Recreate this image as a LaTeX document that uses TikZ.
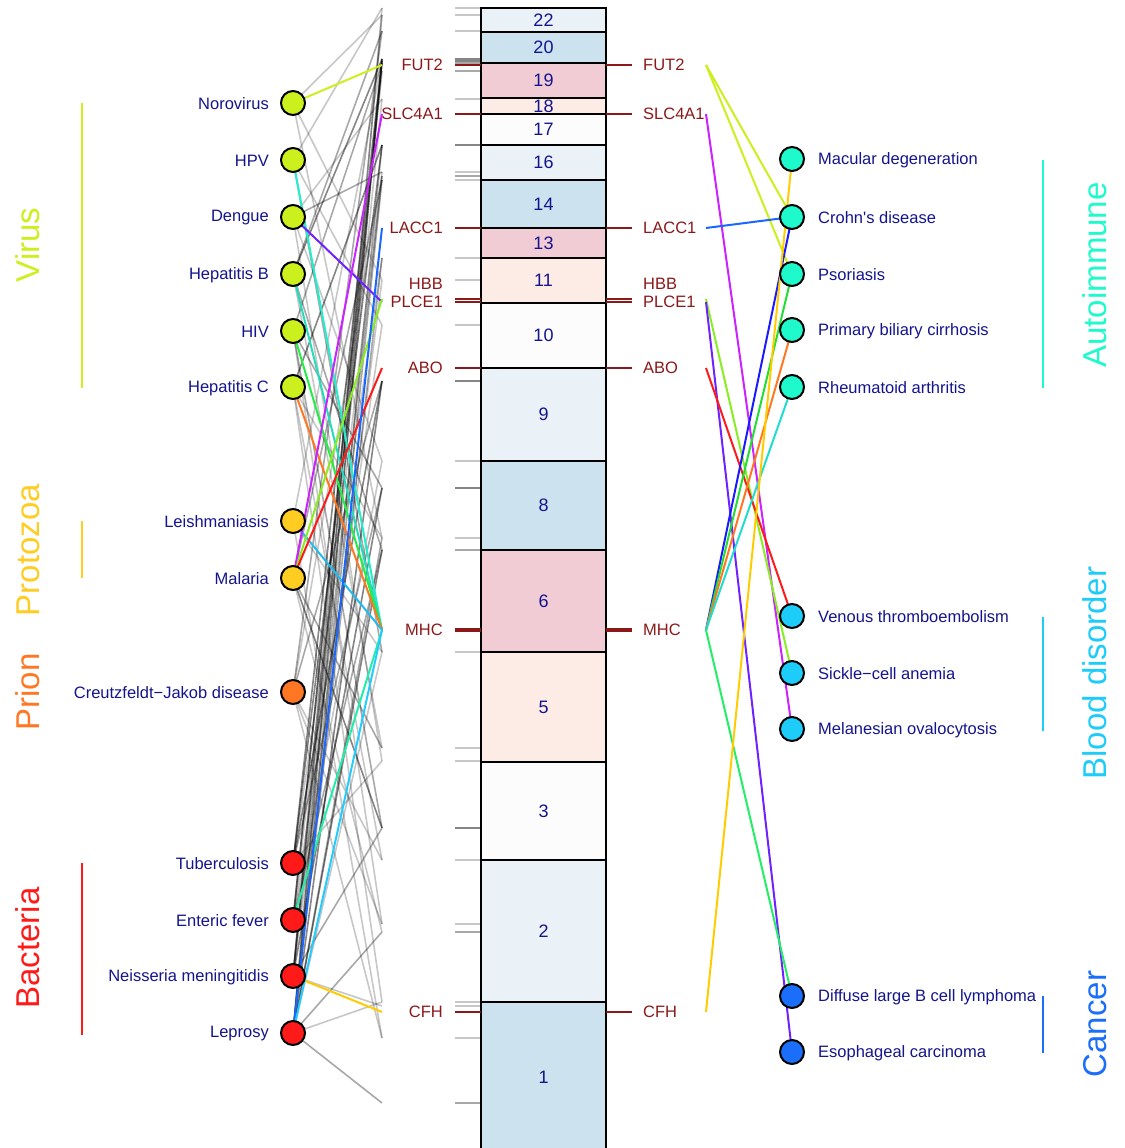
\documentclass[tikz,border=0pt]{standalone}
\usepackage{fontspec}
\setmainfont{Liberation Sans}
\definecolor{cvir}{RGB}{204,240,30}
\definecolor{cpro}{RGB}{255,204,34}
\definecolor{cpri}{RGB}{255,119,34}
\definecolor{cbac}{RGB}{255,26,26}
\definecolor{caut}{RGB}{30,250,204}
\definecolor{cblo}{RGB}{30,204,250}
\definecolor{ccan}{RGB}{26,110,250}
\definecolor{dred}{RGB}{140,25,25}
\definecolor{lnavy}{RGB}{20,20,140}
\definecolor{lviolet}{RGB}{110,34,255}
\definecolor{lmag}{RGB}{204,34,255}
\definecolor{lgreen}{RGB}{136,238,34}
\definecolor{lblue}{RGB}{26,102,255}
\definecolor{ldblue}{RGB}{26,26,255}
\definecolor{lgr}{RGB}{34,221,51}
\definecolor{lgr2}{RGB}{34,238,68}
\definecolor{lspring}{RGB}{34,238,102}
\definecolor{lturq}{RGB}{34,221,204}
\definecolor{laqua}{RGB}{34,238,204}
\definecolor{laqua2}{RGB}{34,221,187}
\definecolor{laqua3}{RGB}{34,238,170}
\definecolor{lcyan}{RGB}{34,204,255}
\definecolor{lsky}{RGB}{34,187,238}
\definecolor{lgold}{RGB}{255,204,0}
\definecolor{lorange}{RGB}{255,119,34}
\definecolor{lred}{RGB}{255,26,26}
\definecolor{bpb}{RGB}{234,242,248}
\definecolor{blb}{RGB}{204,226,238}
\definecolor{bpk}{RGB}{242,204,212}
\definecolor{bpp}{RGB}{253,236,230}
\definecolor{bwh}{RGB}{252,252,252}
\begin{document}
\begin{tikzpicture}[x=1pt,y=-1pt,
  dis/.style={circle,draw=black,line width=2pt,minimum size=24pt,inner sep=0pt},
  llab/.style={anchor=east,inner sep=0pt,text=lnavy,font=\fontsize{16.5}{19}\selectfont},
  rlab/.style={anchor=west,inner sep=0pt,text=lnavy,font=\fontsize{16.5}{19}\selectfont},
  glab/.style={inner sep=0pt,text=dred,font=\fontsize{16.5}{19}\selectfont},
  cat/.style={rotate=90,inner sep=0pt,font=\fontsize{33}{38}\selectfont},
  chr/.style={draw=black,line width=2pt},
  chrnum/.style={inner sep=0pt,text=lnavy,font=\fontsize{18}{20}\selectfont},
  gL/.style={draw=black,opacity=0.22,line width=1.6pt},
  gM/.style={draw=black,opacity=0.34,line width=1.6pt},
  gD/.style={draw=black,opacity=0.48,line width=1.6pt},
  cl/.style={line width=2pt},
  rtick/.style={draw=dred,line width=2pt},
  catline/.style={line width=1.5pt}]
\useasboundingbox (0,0) rectangle (1124,1148);

% ---------- chromosome blocks ----------
\foreach \a/\b/\c/\n in {8/32/bpb/22,32/63/blb/20,63/98/bpk/19,98/114/bpp/18,114/145/bwh/17,145/180/bpb/16,180/228/blb/14,228/258/bpk/13,258/303/bpp/11,303/368/bwh/10,368/461/bpb/9,461/550/blb/8,550/652/bpk/6,652/762/bpp/5,762/860/bwh/3,860/1002/bpb/2,1002/1152/blb/1}{
  \draw[chr,fill=\c] (481,\a) rectangle (606,\b);
  \node[chrnum] (chr\n) at (543.5,{(\a+\b)/2}) {\n};
}

% ---------- endpoint coordinates ----------
\foreach \y in {8,15,31,59,61,63,71,99,145,172,176,180,258,280,325,381,461,488,538,550,652,748,761,828,860,924,932,1002,1006,1038,1103}{
  \coordinate (t\y) at (382,\y);
}
\coordinate (lFUT) at (382,65);
\coordinate (lSLC) at (382,114);
\coordinate (lLAC) at (382,228);
\coordinate (lHBB) at (382,299);
\coordinate (lPLC) at (382,302);
\coordinate (lABO) at (382,368);
\coordinate (lMHC) at (382,630);
\coordinate (lCFH) at (382,1012);
\coordinate (rFUT) at (706,65);
\coordinate (rSLC) at (706,114);
\coordinate (rLAC) at (706,228);
\coordinate (rHBB) at (706,299);
\coordinate (rPLC) at (706,302);
\coordinate (rABO) at (706,368);
\coordinate (rMHC) at (706,630);
\coordinate (rCFH) at (706,1012);

% ---------- gray ticks ----------
\foreach \y/\s in {8/L,15/L,31/L,59/D,61/D,63/M,71/M,99/L,145/D,172/L,176/M,180/L,258/L,280/L,325/L,381/D,461/L,488/D,538/L,550/M,652/L,748/L,761/L,828/D,860/L,924/L,932/M,1002/L,1006/L,1038/L,1103/M}{
  \draw[g\s] (455,\y) -- (481,\y);
}
% ---------- red gene ticks ----------
\foreach \y in {65,114,228,299,302,368,1012}{
  \draw[rtick] (455,\y) -- (481,\y);
  \draw[rtick] (606,\y) -- (632,\y);
}
\draw[rtick,line width=3.5pt] (455,630) -- (481,630);
\draw[rtick,line width=3.5pt] (606,630) -- (632,630);

% ---------- gene labels ----------
\foreach \t/\y in {FUT2/65,SLC4A1/114,LACC1/228,HBB/284,PLCE1/302,ABO/368,MHC/630,CFH/1012}{
  \node[glab,anchor=east] at (443,\y) {\t};
  \node[glab,anchor=west] at (643,\y) {\t};
}

% ---------- disease positions ----------
\path
  (293,103) coordinate (noro)
  (293,160) coordinate (hpv)
  (293,217) coordinate (deng)
  (293,274) coordinate (hepb)
  (293,331) coordinate (hiv)
  (293,387) coordinate (hepc)
  (293,521) coordinate (leish)
  (293,578) coordinate (mal)
  (293,692) coordinate (cjd)
  (293,863) coordinate (tb)
  (293,920) coordinate (ent)
  (293,976) coordinate (nei)
  (293,1033) coordinate (lep);
\path
  (792,159) coordinate (mac)
  (792,217) coordinate (cro)
  (792,274) coordinate (pso)
  (792,330) coordinate (pbc)
  (792,387) coordinate (ra)
  (792,616) coordinate (vte)
  (792,673) coordinate (sca)
  (792,729) coordinate (mel)
  (792,996) coordinate (dlb)
  (792,1052) coordinate (eso);

% ---------- gray connectors ----------
\foreach \n/\y/\s in {
  noro/15/L,noro/280/L,noro/538/L,
  hpv/8/L,hpv/325/L,hpv/652/M,
  deng/99/L,deng/172/M,deng/461/L,deng/761/L,
  hepb/31/M,hepb/59/D,hepb/550/M,hepb/748/L,
  hiv/63/M,hiv/488/M,hiv/828/M,hiv/924/L,
  hepc/145/D,hepc/538/L,hepc/860/L,hepc/1002/L,
  leish/61/L,leish/652/L,leish/1038/L,
  mal/180/M,mal/748/M,mal/932/L,mal/828/D,
  cjd/31/M,cjd/176/L,cjd/381/M,cjd/860/L,cjd/1038/L,cjd/924/L,
  tb/59/D,tb/145/D,tb/258/L,tb/381/D,tb/488/M,tb/761/L,
  ent/61/D,ent/71/M,ent/172/L,ent/325/L,ent/461/L,ent/550/M,
  nei/15/M,nei/63/D,nei/99/L,nei/176/M,nei/280/L,nei/488/D,nei/828/M,nei/1006/L,
  lep/8/L,lep/59/D,lep/145/M,lep/180/M,lep/258/M,lep/381/D,lep/538/M,lep/550/D,lep/652/L,lep/932/M,lep/1002/L,lep/1103/M}{
  \draw[g\s] (\n) -- (t\y);
}

% ---------- coloured connectors, left ----------
\draw[cl,cvir] (noro) -- (lFUT);
\draw[cl,laqua] (hpv) -- (lMHC);
\draw[cl,lviolet] (deng) -- (lPLC);
\draw[cl,laqua2] (hepb) -- (lMHC);
\draw[cl,lgr2] (hiv) -- (lMHC);
\draw[cl,lorange] (hepc) -- (lMHC);
\draw[cl,lsky] (leish) -- (lMHC);
\draw[cl,lmag] (mal) -- (lSLC);
\draw[cl,lgreen] (mal) -- (lHBB);
\draw[cl,lred] (mal) -- (lABO);
\draw[cl,laqua3] (ent) -- (lMHC);
\draw[cl,lgold] (nei) -- (lCFH);
\draw[cl,lblue] (lep) -- (lLAC);
\draw[cl,lcyan] (lep) -- (lMHC);

% ---------- coloured connectors, right ----------
\draw[cl,cvir] (rFUT) -- (cro);
\draw[cl,cvir] (rFUT) -- (pso);
\draw[cl,lmag] (rSLC) -- (mel);
\draw[cl,lblue] (rLAC) -- (cro);
\draw[cl,lgreen] (rHBB) -- (sca);
\draw[cl,lviolet] (rPLC) -- (eso);
\draw[cl,lred] (rABO) -- (vte);
\draw[cl,ldblue] (rMHC) -- (cro);
\draw[cl,lgr] (rMHC) -- (pso);
\draw[cl,lorange] (rMHC) -- (pbc);
\draw[cl,lturq] (rMHC) -- (ra);
\draw[cl,lspring] (rMHC) -- (dlb);
\draw[cl,lgold] (rCFH) -- (mac);

% ---------- disease circles and labels, left ----------
\foreach \n/\c/\t in {noro/cvir/Norovirus,hpv/cvir/HPV,deng/cvir/Dengue,hepb/cvir/Hepatitis B,hiv/cvir/HIV,hepc/cvir/Hepatitis C,leish/cpro/Leishmaniasis,mal/cpro/Malaria,cjd/cpri/Creutzfeldt\textminus Jakob disease,tb/cbac/Tuberculosis,ent/cbac/Enteric fever,nei/cbac/Neisseria meningitidis,lep/cbac/Leprosy}{
  \node[dis,fill=\c] (\n C) at (\n) {};
  \node[llab] (\n L) at ([xshift=-24pt,yshift=-1pt]\n) {\t};
}
% ---------- disease circles and labels, right ----------
\foreach \n/\c/\t in {mac/caut/Macular degeneration,cro/caut/Crohn\textquotesingle s disease,pso/caut/Psoriasis,pbc/caut/Primary biliary cirrhosis,ra/caut/Rheumatoid arthritis,vte/cblo/Venous thromboembolism,sca/cblo/Sickle\textminus cell anemia,mel/cblo/Melanesian ovalocytosis,dlb/ccan/Diffuse large B cell lymphoma,eso/ccan/Esophageal carcinoma}{
  \node[dis,fill=\c] (\n C) at (\n) {};
  \node[rlab] (\n L) at ([xshift=26pt,yshift=-1pt]\n) {\t};
}

% ---------- categories ----------
\node[cat,text=cvir] (catvir) at (28,245) {Virus};
\node[cat,text=cpro] (catpro) at (28,550) {Protozoa};
\node[cat,text=cpri] (catpri) at (28,692) {Prion};
\node[cat,text=cbac] (catbac) at (28,948) {Bacteria};
\node[cat,text=caut] (cataut) at (1095,275) {Autoimmune};
\node[cat,text=cblo] (catblo) at (1095,673) {Blood disorder};
\node[cat,text=ccan] (catcan) at (1095,1024) {Cancer};
\draw[catline,cvir] (82,103) -- (82,388);
\draw[catline,cpro] (82,521) -- (82,578);
\draw[catline,cbac] (82,863) -- (82,1035);
\draw[catline,caut] (1043,160) -- (1043,388);
\draw[catline,cblo] (1043,617) -- (1043,731);
\draw[catline,ccan] (1043,996) -- (1043,1053);
\end{tikzpicture}
\end{document}
